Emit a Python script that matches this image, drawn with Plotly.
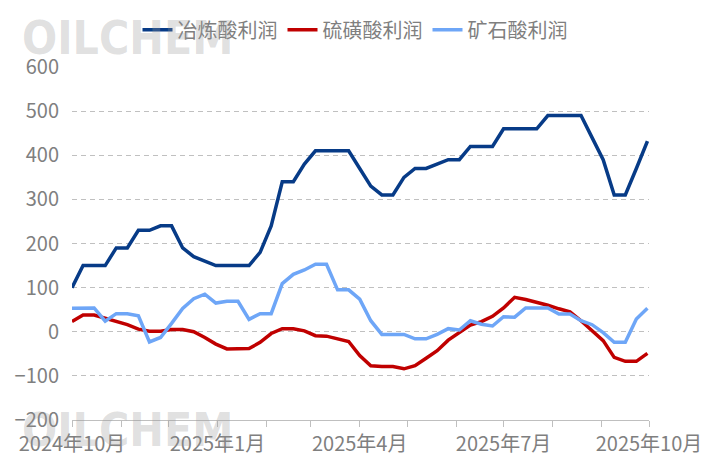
import pandas as pd
import plotly.graph_objects as go

# weekly dates (category axis)
dates = pd.date_range("2024-10-01", periods=53, freq="7D")

smelting = [100, 150, 150, 150, 190, 190, 230, 230, 240, 240,
            190, 170, 160, 150, 150, 150, 150, 180, 240, 340,
            340, 380, 410, 410, 410, 410, 370, 330, 310, 310,
            350, 370, 370, 380, 390, 390, 420, 420, 420, 460,
            460, 460, 460, 490, 490, 490, 490, 440, 390, 310,
            310, 370, 432]

sulfur = [23, 38, 38, 31, 23, 16, 6, 1, 1, 5,
          5, 0, -13, -28, -39, -39, -38, -24, -4, 7,
          7, 2, -9, -10, -17, -22, -54, -77, -79, -79,
          -84, -77, -60, -43, -19, -1, 15, 23, 35, 54,
          78, 73, 67, 60, 52, 45, 25, 2, -20, -58,
          -67, -67, -49]

ore = [53, 53, 54, 24, 41, 41, 36, -23, -13, 19,
       53, 75, 85, 65, 69, 69, 28, 41, 41, 109,
       130, 140, 153, 153, 95, 95, 74, 25, -6, -6,
       -6, -16, -16, -6, 7, 4, 25, 17, 13, 34,
       33, 54, 54, 54, 40, 40, 25, 16, -2, -24,
       -24, 29, 53]

series_names = ["冶炼酸利润", "硫磺酸利润", "矿石酸利润"]
colors = ["#073B87", "#C00000", "#6EA6F7"]

month_ticks = pd.date_range("2024-10-01", "2025-10-01", freq="MS")
month_text = [f"{d.year}年{d.month}月" if d.month in (1, 4, 7, 10) else "" for d in month_ticks]

y_ticks = list(range(-200, 601, 100))

FONT = "Noto Sans CJK SC, Microsoft YaHei, sans-serif"
GRAY = "#7f7f7f"

fig = go.Figure()
for name, vals, col in zip(series_names, [smelting, sulfur, ore], colors):
    fig.add_trace(go.Scatter(x=dates, y=vals, name=name, mode="lines",
                             line=dict(color=col, width=3.5)))

fig.update_layout(
    width=710, height=473,
    margin=dict(l=72, r=61, t=67, b=53, autoexpand=False),
    plot_bgcolor="white", paper_bgcolor="white",
    font=dict(family=FONT, size=20, color=GRAY),
    showlegend=True,
    legend=dict(orientation="h", xref="container", yref="container",
                x=0.5, xanchor="center", y=0.937, yanchor="middle",
                font=dict(size=20, color=GRAY), itemwidth=30,
                tracegroupgap=0, bgcolor="rgba(0,0,0,0)"),
)

fig.update_xaxes(
    range=["2024-10-01", "2025-10-01"],
    tickmode="array", tickvals=month_ticks, ticktext=month_text,
    ticks="outside", ticklen=6, tickcolor="#bfbfbf", tickwidth=1,
    showline=True, linecolor="#bfbfbf", linewidth=1,
    showgrid=False, zeroline=False,
    tickfont=dict(size=20, color=GRAY),
)
fig.update_yaxes(
    range=[-200, 600], tickmode="array", tickvals=y_ticks,
    showgrid=True, gridcolor="#c0c0c0", gridwidth=1, griddash="5px,4px",
    zeroline=False, showline=False, ticks="",
    ticklabelstandoff=12,
    tickfont=dict(size=20, color=GRAY),
)

for yy in [1.082, -0.028]:
    fig.add_annotation(text="<b>OILCHEM</b>", xref="paper", yref="paper",
                       x=-0.09, y=yy, xanchor="left", yanchor="middle",
                       showarrow=False,
                       font=dict(family="DejaVu Sans Condensed, Liberation Sans, sans-serif",
                                 size=46, color="rgba(150,150,150,0.3)"))

fig.write_html("out.html", config={"displayModeBar": False},
               post_script="document.body.style.margin='0';document.body.style.padding='0';")
